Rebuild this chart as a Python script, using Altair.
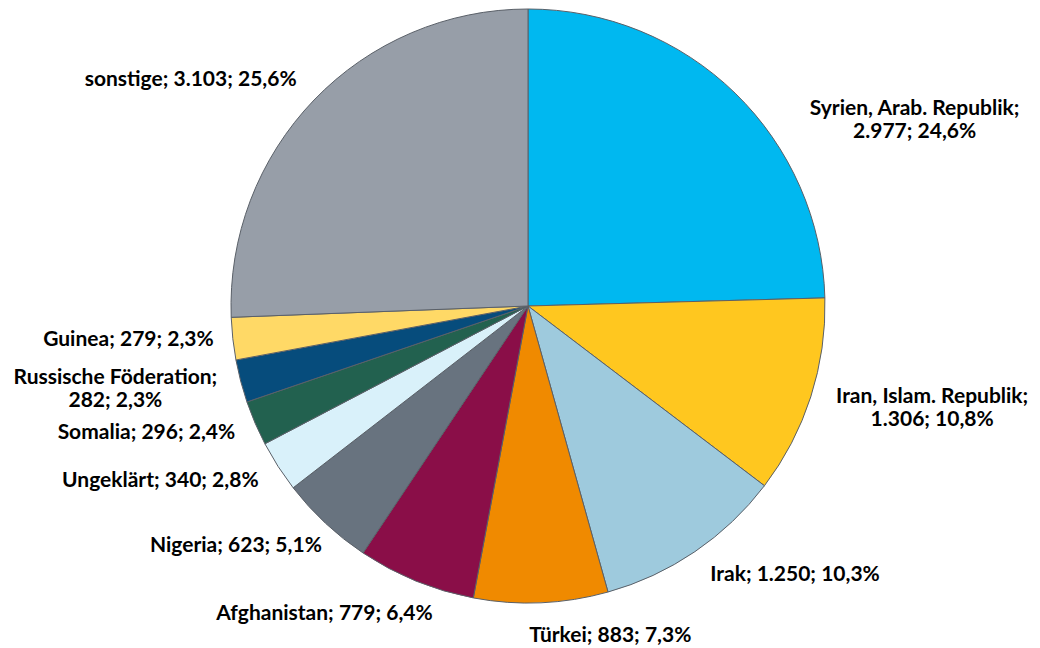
import math
import altair as alt
import pandas as pd

categories = ["Syrien, Arab. Republik", "Iran, Islam. Republik", "Irak", "Türkei",
              "Afghanistan", "Nigeria", "Ungeklärt", "Somalia",
              "Russische Föderation", "Guinea", "sonstige"]
values = [2977, 1306, 1250, 883, 779, 623, 340, 296, 282, 279, 3103]
colors = ["#00B8F0", "#FFC71F", "#9ECADD", "#F08A00", "#8A0E48", "#68737F",
          "#D9F1FA", "#22614F", "#064C7C", "#FFD966", "#979EA8"]
# labels wrapped onto a second line
wrap_after_name = [True, True, False, False, False, False, False, False, True, False, False]

# label layout (angle shift from slice middle in degrees, distance from centre in px)
label_shift = [20.1, -3.6, -10.6, -11.5, 11.3, 7.6, 7.3, 4.9, 3.2, 1.4, -10.1]
label_dist = [429, 417, 379, 340, 369, 378, 407, 402, 421, 401, 406]

total = sum(values)


def de_int(v):
    return f"{v:,}".replace(",", ".")


def de_pct(v):
    return f"{100 * v / total:.1f}".replace(".", ",") + "%"


rows = []
cum = 0
for i, (c, v) in enumerate(zip(categories, values)):
    mid = (cum + v / 2) / total * 2 * math.pi
    cum += v
    sep = ";\n" if wrap_after_name[i] else "; "
    rows.append({
        "cat": c, "value": v, "order": i,
        "wrap": wrap_after_name[i],
        "label": f"{c}{sep}{de_int(v)}; {de_pct(v)}",
        "ltheta": mid + math.radians(label_shift[i]),
        "lrad": label_dist[i],
    })
df = pd.DataFrame(rows)

CX, CY = 520, 298
LH = 23

pie = alt.Chart(df).mark_arc(radius=297, stroke="#5a6068", strokeWidth=1).encode(
    theta=alt.Theta("value:Q", stack=True),
    order=alt.Order("order:Q"),
    color=alt.Color("cat:N", scale=alt.Scale(domain=categories, range=colors), legend=None),
    x=alt.value(CX), y=alt.value(CY),
)

text_style = dict(font="Lato", fontWeight="bold", fontSize=21, lineBreak="\n", lineHeight=LH,
                  align="center", baseline="middle", color="#000000")
text_enc = dict(
    text="label:N",
    theta=alt.Theta("ltheta:Q", scale=None),
    radius=alt.Radius("lrad:Q", scale=None),
    x=alt.value(CX), y=alt.value(CY),
)

labels_single = alt.Chart(df).transform_filter("!datum.wrap").mark_text(**text_style).encode(**text_enc)
labels_double = alt.Chart(df).transform_filter("datum.wrap").mark_text(
    dy=-LH / 2, **text_style).encode(**text_enc)

chart = alt.layer(pie, labels_single, labels_double).properties(
    width=1024, height=640, padding=0,
    autosize=alt.AutoSizeParams(type="none"),
).configure_view(stroke=None)

chart.save("out.html", embed_options={"renderer": "svg", "actions": False})
